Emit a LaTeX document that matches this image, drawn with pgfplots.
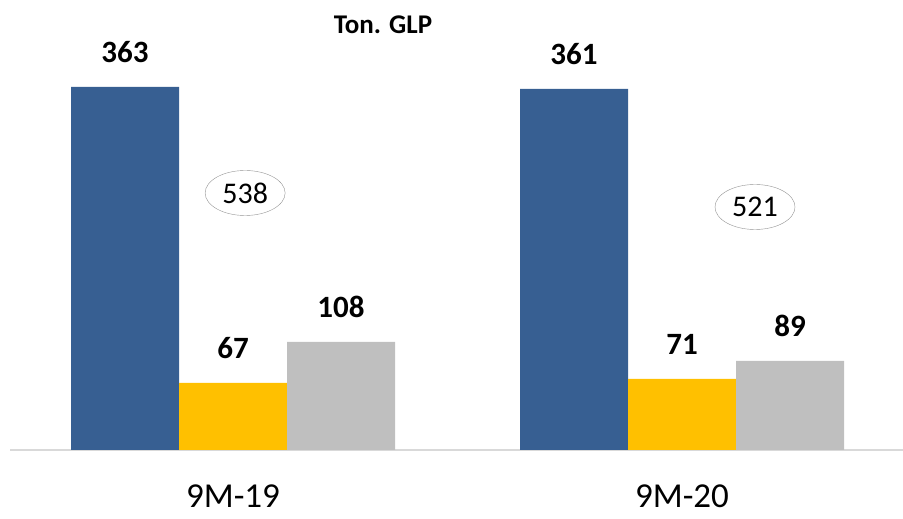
\documentclass[border=0pt]{standalone}
\usepackage{fontspec}
\setmainfont{Carlito}
\usepackage{pgfplots}
\pgfplotsset{compat=1.18}
\usetikzlibrary{shapes.geometric}
\definecolor{cblue}{HTML}{375F92}
\definecolor{cyellow}{HTML}{FFC000}
\definecolor{cgray}{HTML}{BFBFBF}
\definecolor{cline}{HTML}{D9D9D9}
\begin{document}
\begin{tikzpicture}
\useasboundingbox (-10pt,-69pt) rectangle (893pt,450pt);
\begin{axis}[
  at={(0,0)}, anchor=south west,
  scale only axis, width=893pt, height=450pt,
  xmin=-0.4967, xmax=1.4922, ymin=0, ymax=450,
  ybar=0pt, bar width=108pt,
  hide y axis, axis x line*=bottom,
  x axis line style={draw=cline, line width=1.5pt},
  xtick={0,1}, xticklabels={9M-19,9M-20}, major tick length=0pt,
  xticklabel style={font=\fontsize{35}{35}\selectfont, anchor=base, yshift=-58pt},
  /pgf/number format/assume math mode=true,
  nodes near coords,
  every node near coord/.append style={font=\fontsize{31}{31}\selectfont\bfseries, inner sep=0pt, anchor=south, yshift=24pt},
  clip=false,
]
\addplot[fill=cblue, draw=none] coordinates {(0,363) (1,361)};
\addplot[fill=cyellow, draw=none] coordinates {(0,67) (1,71)};
\addplot[fill=cgray, draw=none] coordinates {(0,108) (1,89)};
\node[font=\fontsize{27}{27}\selectfont\bfseries] at (axis cs:0.334,425) {Ton. GLP};
\node[draw=gray!85, ellipse, minimum width=80pt, minimum height=45pt, inner sep=0pt, font=\fontsize{30}{30}\selectfont] at (axis cs:0.027,257) {538};
\node[draw=gray!85, ellipse, minimum width=80pt, minimum height=45pt, inner sep=0pt, font=\fontsize{30}{30}\selectfont] at (axis cs:1.1626,243) {521};
\end{axis}
\end{tikzpicture}
\end{document}
